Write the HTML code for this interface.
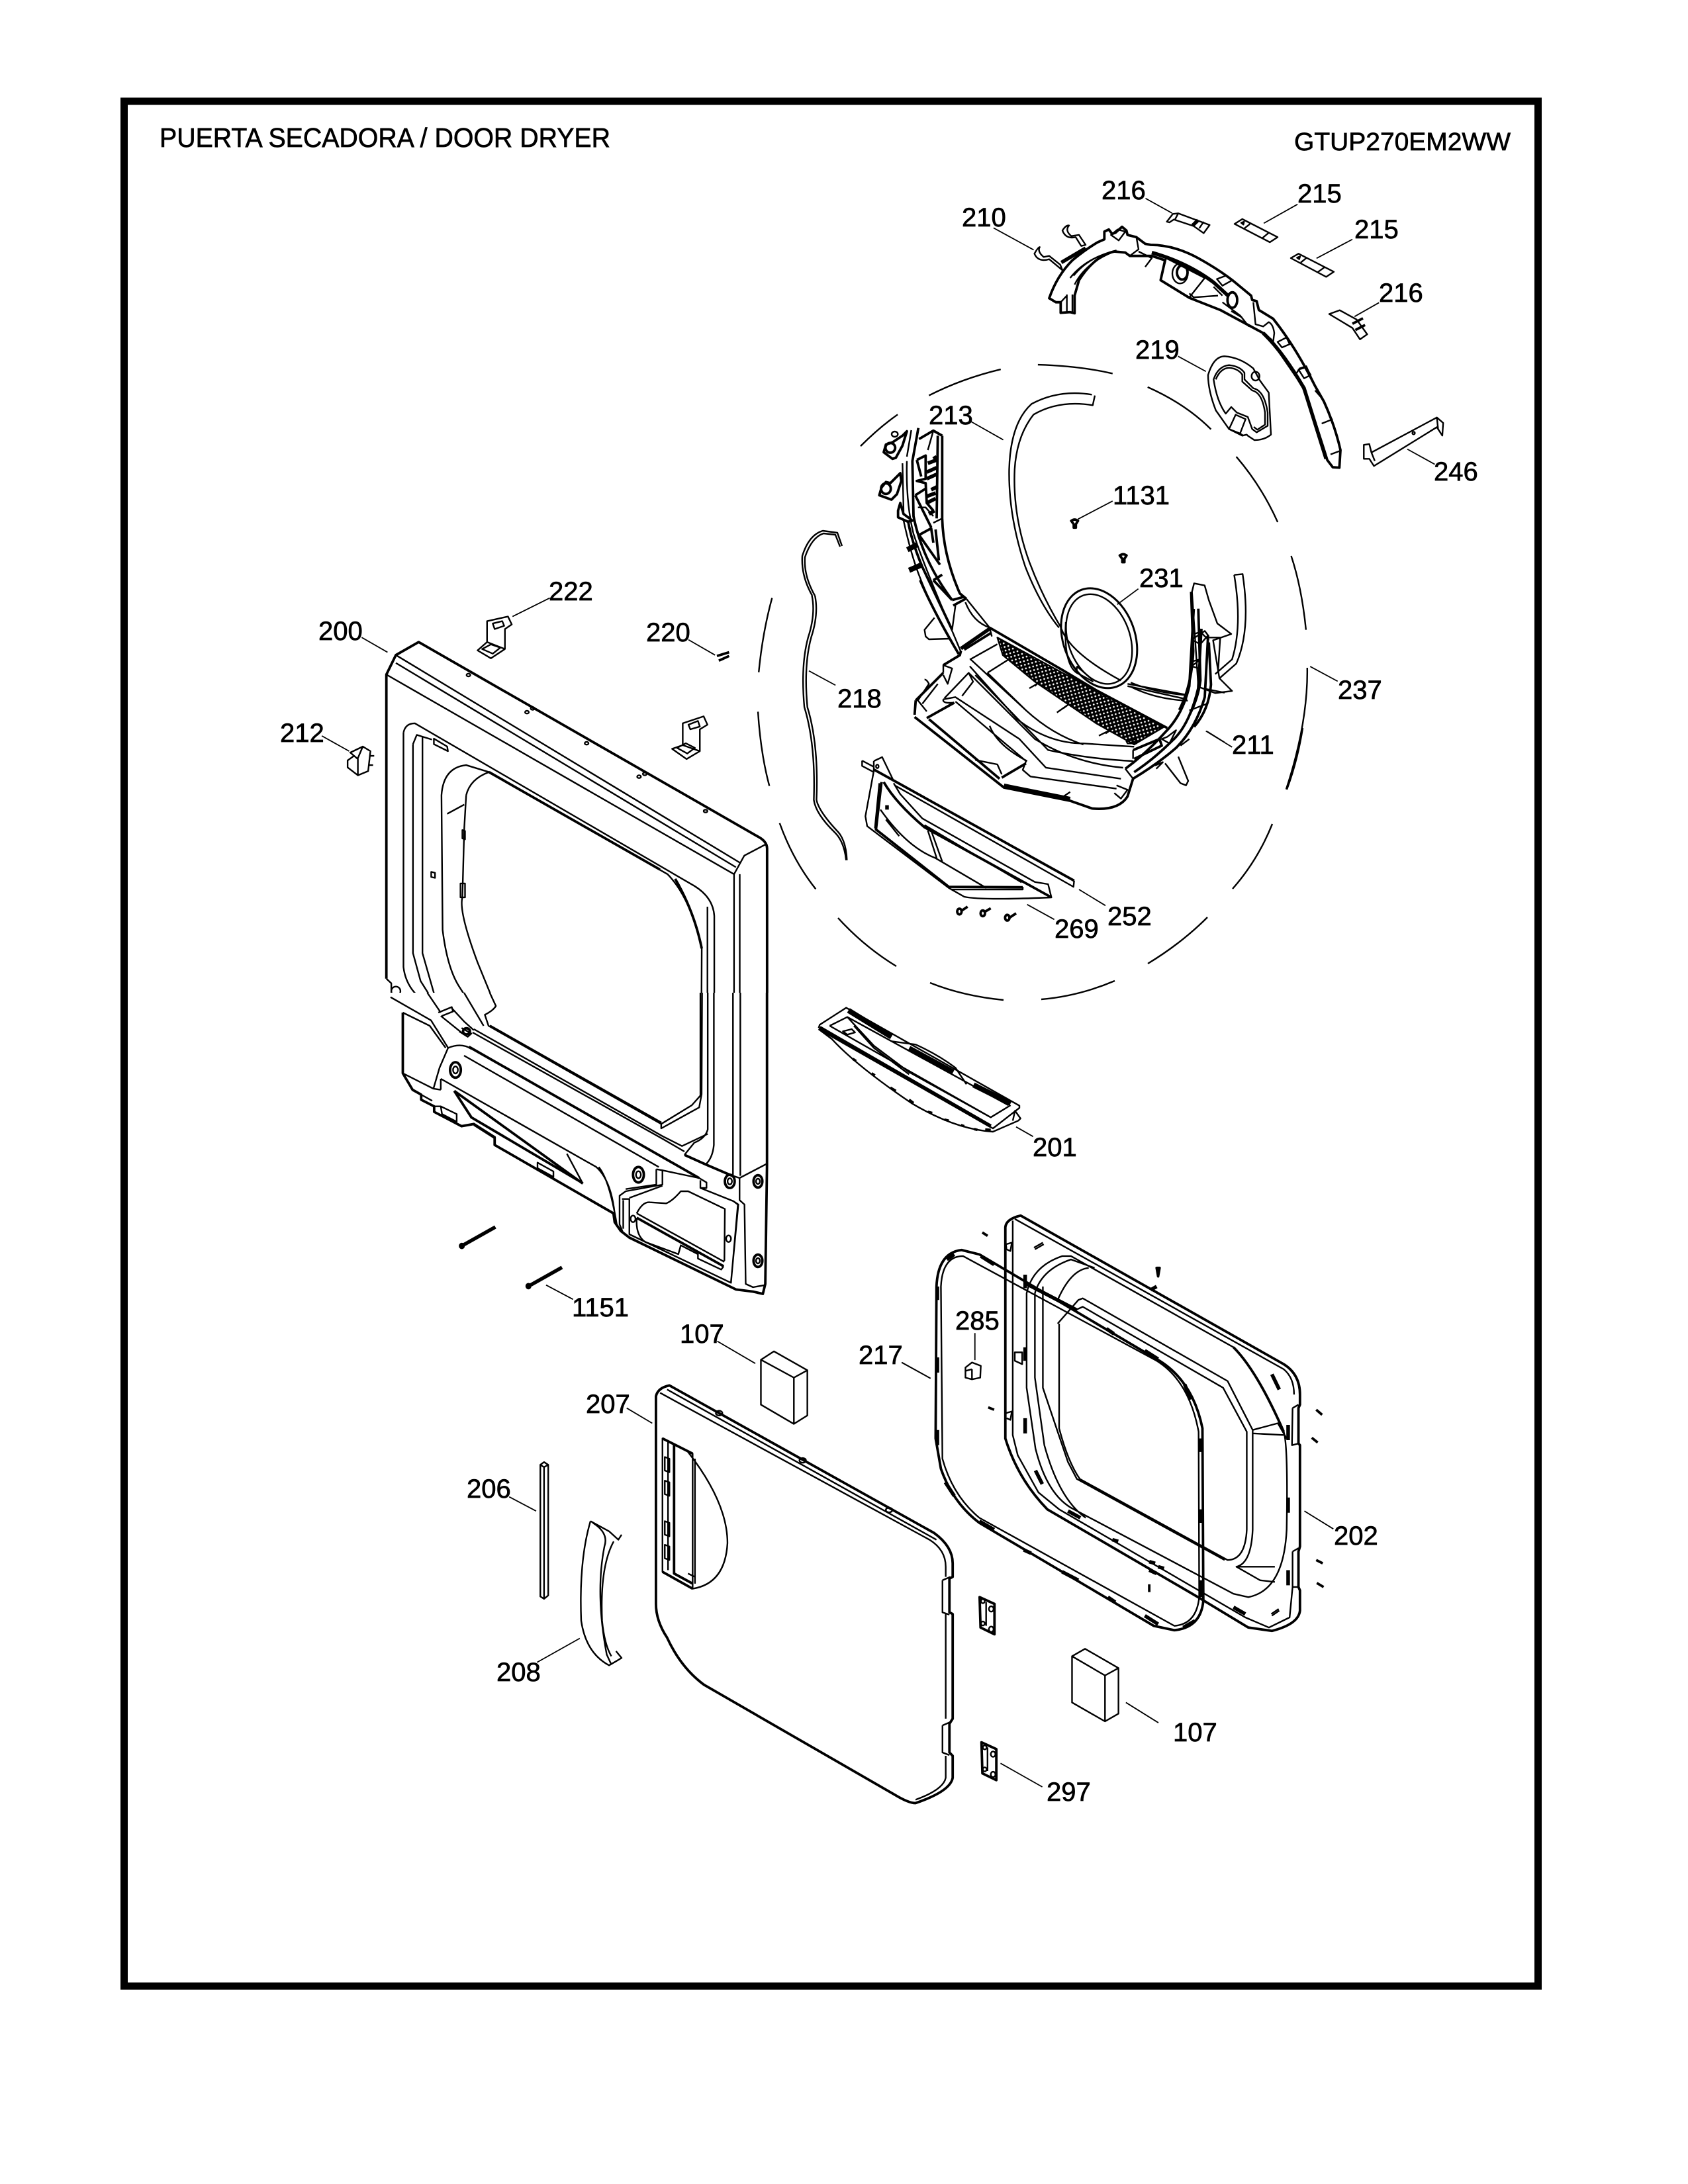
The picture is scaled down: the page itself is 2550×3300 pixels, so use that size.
<!DOCTYPE html>
<html><head><meta charset="utf-8"><style>
html,body{margin:0;padding:0;background:#fff}
svg{display:block}
path,ellipse,line{fill:none;stroke:#000;stroke-width:2.4;vector-effect:non-scaling-stroke;stroke-linejoin:round}
.t{stroke-width:3.8}
.b{stroke-width:5.5}
.x{stroke-width:8}
.l{stroke-width:1.8}
.k{fill:#000}
text{font-family:"Liberation Sans",sans-serif;font-size:40px;fill:#000;stroke:#000;stroke-width:.7px}
</style></head><body>
<svg width="2550" height="3300" viewBox="0 0 2550 3300" xmlns="http://www.w3.org/2000/svg">
<defs>
<pattern id="mesh" width="24" height="24" patternUnits="userSpaceOnUse" patternTransform="rotate(30)"><rect width="24" height="24" fill="#000"/><ellipse cx="6" cy="6" rx="4" ry="4" style="fill:#fff;stroke:none"/><ellipse cx="18" cy="18" rx="4" ry="4" style="fill:#fff;stroke:none"/></pattern>
<clipPath id="top"><rect x="0" y="0" width="2550" height="1500"/></clipPath>
</defs>
<rect x="187.500" y="153" width="2136" height="2848" fill="none" stroke="#000" stroke-width="11"/>
<text x="241" y="222" textLength="681" lengthAdjust="spacingAndGlyphs" style="font-size:41px">PUERTA SECADORA / DOOR DRYER</text>
<text x="1955" y="227" textLength="327" lengthAdjust="spacingAndGlyphs" style="font-size:38px">GTUP270EM2WW</text>

<!-- labels -->
<text x="1664" y="301">216</text><text x="1960" y="306">215</text><text x="2046" y="360">215</text>
<text x="1453" y="342">210</text><text x="2083" y="456">216</text><text x="1715" y="542">219</text>
<text x="1403" y="641">213</text><text x="2166" y="726">246</text><text x="1681" y="762">1131</text>
<text x="1721" y="887">231</text><text x="2021" y="1056">237</text><text x="1861" y="1139">211</text>
<text x="1265" y="1069">218</text><text x="1673" y="1398">252</text><text x="1593" y="1417">269</text>
<text x="1560" y="1747">201</text><text x="481" y="967">200</text><text x="829" y="907">222</text>
<text x="976" y="969">220</text><text x="423" y="1121">212</text><text x="864" y="1989">1151</text>
<text x="1027" y="2029">107</text><text x="1297" y="2061">217</text><text x="885" y="2135">207</text>
<text x="705" y="2263">206</text><text x="750" y="2540">208</text><text x="1581" y="2721">297</text>
<text x="1443" y="2009">285</text><text x="2015" y="2334">202</text><text x="1772" y="2631">107</text>

<!-- Z1 upper assemblies -->
<g transform="translate(1300,250) scale(.6378)">
<path class="l" d="M675 78L738 113M1035 92L955 137M1165 175L1080 220M1228 325L1170 358M315 148L410 200M752 452L818 488M262 607L338 650M1295 672L1360 708M597 795L515 838M658 1003L608 1040M1065 1187L1130 1222M818 1340L880 1378"/>
<path d="M162 545Q240 505 332 483M420 472Q520 475 597 493M680 525Q770 565 830 625M890 690Q950 760 988 845M1020 925Q1045 1000 1055 1100M1058 1190Q1060 1320 1008 1478M0 665Q45 620 88 590"/>
<path d="M1110 352L1135 343L1175 365L1200 400L1183 412L1165 385Z"/><path class="t" d="M1165 375L1190 362M1172 390L1195 378"/>
<path d="M1192 662L1205 660L1210 680L1365 597L1380 610L1378 640L1365 620L1216 712L1205 695L1192 695ZM1210 680L1218 700M1365 597L1368 625"/><ellipse cx="1310" cy="634" rx="3" ry="3"/>
<path d="M555 545L550 568Q470 555 410 590Q370 640 365 720Q360 830 400 940Q430 1020 475 1095M548 543Q470 530 405 565Q355 610 352 720Q350 830 390 950Q425 1040 470 1095M640 1225Q700 1250 775 1255M640 1235Q700 1265 775 1268M885 970L905 968Q925 1100 890 1180L850 1215M885 970Q905 1090 880 1170L840 1205"/>
<ellipse cx="565" cy="1120" rx="85" ry="122" transform="rotate(-20 565 1120)" style="stroke-width:3"/>
<ellipse cx="565" cy="1122" rx="73" ry="110" transform="rotate(-20 565 1122)"/>
<path class="t" d="M499 842Q507 836 515 842L510 850L510 858L505 858L505 850ZM614 924Q622 918 630 924L625 932L625 940L620 940L620 932Z"/>
<path d="M790 990L815 995L825 1030L845 1085L878 1110L835 1125L850 1215L880 1245L840 1250L800 1235L785 1010Z"/>
<path class="t" d="M783 1010L788 1150Q785 1230 755 1290M800 1050L805 1220Q800 1260 780 1300M825 1130L830 1230Q825 1290 790 1330"/>
<path d="M790 1110L805 1105L825 1125M785 1175L805 1170"/>
</g>

<!-- top arc 210, 216, 215, 219 -->
<g transform="translate(1540,290) scale(.33333)">
<path d="M668 135L695 100L720 97L862 150L835 187L790 155L700 125L680 138ZM720 97L705 125M835 135L815 165"/><path class="b" d="M810 128L785 152"/>
<path d="M975 145L1010 123L1170 205L1135 228ZM1045 145L1020 165M1130 185L1100 210"/><path class="k" d="M1005 140L1018 135L1015 148Z"/>
<path d="M1230 300L1265 280L1425 362L1390 385ZM1300 300L1275 320M1385 340L1350 365"/><path class="k" d="M1258 298L1272 292L1268 305Z"/>
<path class="t" d="M135 482Q170 380 240 310Q300 260 355 228L385 215L385 180L405 170L420 190L435 185L465 158L485 175L490 195L530 205L570 235L595 240Q700 240 810 300Q900 350 965 400L1050 470L1055 490L1075 495L1085 535L1150 575Q1250 700 1340 880L1380 950Q1430 1060 1455 1170L1450 1250L1420 1248L1395 1215Q1360 1100 1280 870L1250 830L1140 670L1105 640L910 535L770 480L640 400L660 310L600 290L500 290L480 275L430 270Q340 290 270 400L250 470L250 550L230 545L187 548L187 500L165 500Z"/>
<path class="b" d="M190 320L300 255M600 275Q760 320 880 410L945 470M1105 640Q1190 720 1290 890L1390 1210"/>
<path d="M230 390Q300 300 440 265M245 380Q310 300 410 275M250 420Q300 320 430 270M215 465L215 545M240 465L240 545M187 500L215 470"/>
<path d="M195 175Q210 150 225 152Q205 175 235 200L270 195L300 240L280 245L255 205Q210 215 195 175ZM68 280Q85 250 92 250Q80 270 110 295L135 290L185 330L195 355L135 305Q85 320 68 280Z"/>
<path d="M640 400L770 478L840 390L665 300ZM770 460L790 478L900 470M880 430L920 470M415 195L450 220L480 180L445 170ZM530 205L540 260L500 290M540 270L600 300L570 340M1060 500L1070 600L1105 610L1130 590Q1150 600 1155 640L1150 680M1250 830L1270 800L1300 790L1340 880M1170 680L1210 660L1225 690L1190 705ZM1265 805L1300 795L1320 830L1290 845ZM1370 1050L1420 1030M1340 900L1375 940M1410 1190L1450 1175M895 395L935 380L965 400L920 425ZM920 500L1000 560L1040 610M960 540L1010 570"/>
<ellipse cx="728" cy="370" rx="35" ry="45"/><ellipse cx="738" cy="365" rx="24" ry="32" class="t"/><ellipse cx="965" cy="490" rx="22" ry="35" class="t"/>
<path d="M855 830Q880 745 930 745Q1000 750 1060 800L1090 855L1130 910L1140 1100Q1110 1125 1065 1125L1035 1105L1030 1100L1010 1105L950 1075L890 990Q855 900 855 830Z"/>
<path d="M880 850Q900 790 950 785Q1000 790 1020 820L1020 850L1060 890Q1110 900 1125 1000L1125 1060L1075 1090L1055 1075L1035 1020L985 1000L960 975L935 1005Q895 950 880 850Z"/>
<path d="M890 850Q910 800 950 797Q990 800 1010 828L1010 860L1055 900Q1100 910 1113 1000L1113 1055L1078 1078L1062 1065"/>
<path d="M950 1075L980 1010L1025 1030L1000 1095ZM1000 1095L1015 1105"/><ellipse cx="1070" cy="835" rx="18" ry="20"/>
</g>

<!-- left arm of 211 -->
<g transform="translate(1310,640) scale(.33333)">
<path class="t" d="M340 55L340 430Q345 600 420 770L450 795M340 55L300 32L235 70M320 55L315 430"/>
<path d="M300 32L275 120M340 430L300 450M450 795L555 925M445 810Q480 900 555 925"/>
<path class="t" d="M232 20L205 170L210 420Q250 620 385 800M185 440Q200 530 250 650L385 935M240 710Q300 850 415 1045"/>
<path d="M180 170Q175 360 210 500Q260 650 385 940L425 1035M160 180L165 400M165 440Q200 600 240 700Q310 880 415 1045M200 30L180 150"/>
<path class="b" d="M275 180L315 165M270 220L315 200M270 250L315 230M290 300L320 285M270 330L310 315M270 360L310 340M280 410L305 395M300 160L315 150"/>
<path class="t" d="M225 165L265 145L265 250L225 260L265 270L270 360L300 395M225 165L245 240M218 325L265 295M218 325L290 470M235 505L290 475L300 540M235 505L330 640M310 480L325 620M300 710L340 685M300 710L385 800"/>
<path class="t" d="M390 825L445 795M385 800L440 785"/>
<path d="M400 825L385 935M230 380L265 380L300 420"/>
<path class="t" d="M75 130L85 95L115 85L160 55L180 35L160 100L130 155L115 160ZM65 290L85 265L105 270L150 225L155 260L135 320L110 345L55 325ZM140 395L150 360L165 410L205 440L185 445L140 425Z"/>
<ellipse cx="125" cy="48" rx="14" ry="12"/><ellipse class="t" cx="105" cy="110" rx="22" ry="22"/><ellipse class="t" cx="85" cy="295" rx="22" ry="24"/>
<path class="x" d="M182 572L228 548M190 665L248 640"/>
<path d="M305 880L260 935L265 965L280 978L375 975"/>
<path class="b" d="M425 1020L555 930"/><path class="t" d="M440 1025L560 950"/>
</g>

<!-- Z8 duct -->
<g transform="translate(1350,920) scale(.33333)">
<path d="M470 130L765 290L920 370L1225 535L1090 615L920 520L640 330L495 210Z" style="fill:url(#mesh);stroke:#000"/>
<path class="t" d="M435 85L770 280L920 370L1240 540"/>
<path d="M445 125L435 85"/>
<path class="t" d="M95 490L500 810L800 870L900 905Q1020 915 1060 850L1085 770"/>
<path class="b" d="M500 800L800 860"/>
<path class="t" d="M100 415L225 290M95 480L100 415M225 255L300 210L305 190M150 495L275 425M490 765L600 700M1085 640L1205 590L1215 620L1090 680M160 500L480 770"/>
<path d="M225 290L225 255L265 270L245 340L225 300M345 230L470 160M345 260L560 500Q700 610 860 610L1090 625M350 230L600 460Q720 570 860 615M370 300L700 640Q880 680 1085 690M340 290L640 590Q820 700 1040 720M425 290L520 230M425 290L600 460M225 410L280 400L570 590L690 720L1030 770M280 420L600 690L585 730L620 760L1010 815M435 530Q470 620 605 690M370 685L470 705L490 750M225 410Q220 430 270 425M230 405L340 290L360 330L310 395M140 320Q150 320 160 340L110 415L150 465M130 430L200 340M1085 640L1085 680M1055 600L1100 590L1100 610L1060 610Z"/>
<path class="t" d="M1360 0L1340 350Q1310 480 1230 560Q1150 650 1050 725M1395 90L1380 360Q1340 530 1260 600Q1180 680 1090 740M1425 120L1410 400Q1370 540 1280 630Q1200 700 1085 770"/>
<path d="M1290 670L1335 780L1325 800L1300 790L1230 700M1050 725L1085 770M1010 800L1060 820L1030 860L1000 835M800 830L770 850L820 880M1185 710L1220 695L1190 725M615 360L650 340L640 350M740 470L790 435L770 450M930 575L990 545L960 565M1350 140L1410 100L1425 120L1390 160L1350 140M1350 260L1390 230L1385 270ZM1430 130L1480 130L1470 290M1400 360L1500 380M1340 460L1420 430M1240 580L1280 550L1250 610L1215 590ZM1300 620L1340 590"/>
<path d="M780 60Q770 250 830 290L905 330M830 260L830 290M830 260L900 320M760 90Q800 200 1030 325M1060 340L1330 390M1060 350L1330 410"/>
<path class="l" d="M1420 555L1500 605"/>
</g>

<!-- Z6 252 filter -->
<g transform="translate(1270,1120) scale(.33333)">
<path d="M97 88L97 112L150 140M97 88L150 116M150 90L188 72L240 180M1058 632L1055 660L245 200"/>
<path class="t" d="M150 128L1058 632"/>
<path d="M150 90L150 135L112 340L120 385L490 665L560 705Q640 722 955 708L940 648L880 638L830 610L370 350L270 240L240 190"/>
<path class="t" d="M185 185L160 400L490 660L825 662"/>
<path class="t" d="M195 185Q250 280 380 390L950 705"/>
<path d="M175 190L155 395M180 310Q300 480 430 530L660 665M395 405L435 530M410 405L460 545M205 355L265 430M500 672L825 672L825 660M380 380L820 640"/>
<path class="b" d="M210 290L210 310"/>
<path class="t" d="M545 770L575 750M650 775L680 757M765 800L795 780"/>
<ellipse class="t" cx="538" cy="772" rx="10" ry="13"/><ellipse class="t" cx="644" cy="780" rx="10" ry="13"/><ellipse class="t" cx="755" cy="800" rx="10" ry="13"/>
<ellipse cx="166" cy="114" rx="6" ry="8"/>
<path class="l" d="M1080 672L1200 745M845 740L968 808"/>
</g>

<!-- Z2 panel 200 upper (clipped at y=1500), brackets, wire -->
<g clip-path="url(#top)">
<g transform="translate(400,900) scale(.574,.7015)">
<path d="M1440 0Q1450 40 1430 90Q1410 150 1420 240Q1450 320 1445 440Q1450 470 1500 510Q1525 530 1530 570M1448 0Q1458 40 1438 90Q1418 150 1428 240Q1458 320 1452 440Q1458 465 1510 510Q1530 530 1532 570"/>
<path d="M1335 5Q1310 80 1300 165M1298 250Q1305 340 1328 410M1355 490Q1390 570 1450 632"/>
<path class="l" d="M1432 162L1502 193M1115 95L1185 128M652 45L750 5M255 90L323 122M150 302L222 335"/>
<path class="t" d="M320 825L320 170L345 128L405 100L1300 520Q1322 530 1322 545L1322 1225"/>
<path d="M320 825L333 835L333 865L362 895L362 1035M320 170L1235 600L1262 560L1320 535M345 145L1240 585M345 128L1250 575M1235 600L1235 1250M1250 600L1250 1250"/>
<path d="M365 295Q370 275 395 275L1130 625Q1180 650 1183 690L1183 1170M365 295L365 800Q372 850 430 880L460 900"/>
<path d="M530 430Q540 395 590 380L1060 600Q1120 650 1150 760L1148 1070M580 905L605 880L560 790Q510 680 520 650L525 500L530 430"/>
<path class="t" d="M590 380L1040 590M1080 610Q1130 680 1150 760"/>
<path d="M465 430Q470 370 530 365L590 380M465 430L468 720Q480 800 510 840L580 930M480 470L525 450M390 320L400 300L440 310M390 320L390 770L410 830L460 895M415 305L415 770L450 870L490 885M445 308L480 325L482 335L445 320ZM1165 670L1165 1170M333 865L440 910L480 985"/>
<path d="M438 595L448 597L448 608L438 606ZM520 505L527 507L527 525L520 523ZM515 620L527 620L527 650L515 650Z"/>
<ellipse cx="345" cy="852" rx="12" ry="10"/>
<ellipse cx="536" cy="171" rx="5" ry="3"/><ellipse cx="690" cy="251" rx="5" ry="3"/><ellipse cx="705" cy="243" rx="5" ry="3"/><ellipse cx="847" cy="318" rx="5" ry="3"/><ellipse cx="985" cy="390" rx="5" ry="3"/><ellipse cx="1000" cy="384" rx="5" ry="3"/><ellipse cx="1160" cy="464" rx="5" ry="3"/>
<path d="M585 100L585 55L640 45L650 62L632 72L632 115L595 135L560 118ZM585 100L632 115M572 115L600 125L620 112L595 105ZM600 60L625 55L630 65L605 72Z"/>
<path d="M1100 322L1100 275L1155 260L1165 278L1145 288L1145 335L1110 352L1072 330ZM1100 322L1145 335M1085 328L1112 340L1132 328L1108 318ZM1115 278L1140 270L1145 282L1120 288Z"/>
<path class="t" d="M1190 130L1222 122M1195 140L1222 130"/>
<path d="M225 338L258 325L278 335L272 378L245 387L218 370L218 355L235 345L245 352ZM245 352L245 387M258 325L245 350M278 345L288 345M272 365L285 365"/>
</g>
</g>

<!-- dashed circle lower, wire hook -->
<path d="M1266 1387Q1305 1430 1354 1460M1405 1485Q1455 1505 1516 1511M1573 1510Q1630 1505 1684 1482M1734 1456Q1785 1425 1824 1386M1862 1343Q1900 1300 1922 1245M1944 1193Q1960 1150 1968 1100"/>
<path d="M1272 825L1265 805L1243 802Q1222 808 1212 840Q1210 870 1227 900M1269 826L1262 808L1244 806Q1226 812 1216 842Q1214 870 1231 900"/>

<!-- lower panel 200 -->
<g transform="translate(590,1500) scale(.37,.33333)">
<path class="t" d="M50 90L50 365L90 440L125 462L125 485L178 515L178 540L290 605L340 595L425 655L425 690L910 1000L915 1040L940 1080L975 1110L1410 1345L1480 1355L1520 1365L1530 1320L1537 780L1537 0"/>
<path d="M1428 0L1428 830M1398 0L1398 830M1425 840L1537 775M1398 830L1425 840L1425 940L1445 960L1450 1320L1480 1335L1530 1325"/>
<path class="t" d="M1200 735L1290 780L1395 830"/>
<path d="M1320 0L1320 690Q1315 750 1285 780M1295 0L1295 620Q1285 660 1240 680L1200 735M1272 0L1270 460L1230 510L1105 595L400 150L385 100Q420 80 430 60L405 0M1265 0L1265 470M1105 595L1105 615L1260 520L1270 460"/>
<path class="t" d="M405 150L1105 590"/>
<path d="M340 165L1110 650L1190 695L1295 640M335 180L1115 665L1200 720M300 285L1095 790M1110 805L1260 840L1290 860L1290 885L1265 885L1265 850M1265 885L1400 945L1420 960L1390 1310M1085 800L1110 805L1110 870L960 900L935 920L935 1050L950 1090L975 1110M1085 800L1085 870L960 890M945 935L975 935L975 1095L1390 1315L1418 960L1400 945M975 930L1110 875M950 940L950 1070"/>
<path class="t" d="M320 245L1260 840"/>
<path d="M1005 1000Q1030 945 1060 950L1125 955Q1150 945 1185 900L1215 900L1365 980L1363 1215M1005 1000L1363 1220"/>
<path class="t" d="M1005 1020L1360 1240"/>
<path d="M1005 1020Q1000 1100 1040 1130L1175 1185L1185 1145L1255 1185L1255 1205L1350 1255L1360 1240"/>
<path d="M0 20L165 125L235 250L200 340L175 435L205 440M50 90L160 150L225 250M235 250Q290 225 330 255M50 365L175 435M205 390L205 440M205 390L840 790Q900 850 915 1000M850 790Q895 850 925 1060M720 730L785 865"/>
<path class="t" d="M260 445L785 865M260 445L330 565L780 860"/>
<path d="M178 515L205 515L270 550L270 585L210 550L205 515M425 660L340 600M600 770L665 810L665 835L600 795ZM195 90L250 65L255 85L210 105M205 105L300 190M290 160L330 185L315 200L280 175M250 70L300 130L340 170M150 0L205 90M300 0L380 150M125 462L170 490"/>
<ellipse class="t" cx="265" cy="350" rx="22" ry="35"/><ellipse cx="265" cy="350" rx="10" ry="16"/>
<ellipse class="t" cx="1012" cy="825" rx="22" ry="35"/><ellipse cx="1012" cy="825" rx="10" ry="16"/>
<ellipse class="t" cx="1385" cy="855" rx="20" ry="30"/><ellipse cx="1385" cy="855" rx="9" ry="14"/>
<ellipse class="t" cx="1500" cy="855" rx="18" ry="28"/><ellipse cx="1500" cy="855" rx="8" ry="12"/>
<ellipse class="t" cx="1500" cy="1215" rx="18" ry="28"/><ellipse cx="1500" cy="1215" rx="8" ry="12"/>
<ellipse cx="990" cy="1025" rx="10" ry="15"/><ellipse cx="1380" cy="1115" rx="10" ry="15"/>
<ellipse class="t" cx="310" cy="175" rx="14" ry="14"/>
<path class="b" d="M300 1142L428 1062M572 1325L700 1245"/>
<ellipse class="k" cx="291" cy="1148" rx="9" ry="11"/><ellipse class="k" cx="563" cy="1330" rx="9" ry="11"/>
<path class="l" d="M635 1325L745 1390"/>
</g>

<!-- Z7 201 -->
<g transform="translate(1210,1480) scale(.33333)">
<path d="M80 220L85 205L205 128L990 572L990 582L870 675L80 225"/>
<path class="b" d="M85 218L860 665"/>
<path d="M80 225L140 270Q250 390 500 560Q700 680 870 690L985 640L995 630L970 595L960 640M130 210L210 170L330 300L490 420L860 625L950 570M130 210L860 625M210 170L940 570M410 280L520 295Q620 340 700 400L750 475M240 210L330 310L490 430"/>
<path class="x" d="M215 140L410 260M490 312L690 420M782 478L950 562"/>
<path d="M190 235L230 225L245 240L210 250Z"/>
<path class="t" d="M235 360L250 370M320 425L335 435M405 490L430 505M490 545L510 560M575 600L595 605M650 635L670 640M725 660L740 665M785 678L800 682M835 680L860 682"/>
<path class="l" d="M975 668L1052 712"/>
</g>

<!-- Z3 202 / 217 -->
<g transform="translate(1350,1750) scale(.4464,.5102)">
<path class="t" d="M378 205Q380 180 430 170L1320 610Q1375 640 1375 700L1375 730L1370 740L1370 845L1375 850L1375 1150L1370 1165L1370 1270L1375 1280L1375 1340Q1370 1380 1280 1400L1200 1390L1030 1300L520 1040Q420 950 378 830Z"/>
<path d="M1350 740L1370 730M1350 740L1348 850L1370 845M1350 1165L1370 1155M1350 1165L1350 1270L1370 1270"/>
<path d="M403 185L403 820L420 880L490 990L560 1040L1190 1360L1270 1390L1340 1360L1350 1270M410 180L1320 625Q1355 650 1355 700M450 400Q470 320 570 290L600 290L1150 560Q1230 630 1320 810Q1335 850 1330 1100Q1320 1280 1200 1300L1150 1290L610 1040Q520 1000 480 860L450 680ZM478 400Q500 330 600 300L680 325M505 380L505 680L555 810L590 900L620 950L1120 1190M555 420Q600 330 660 325M560 490L560 800Q590 900 630 950L1130 1190Q1190 1190 1195 1100L1195 810L1115 680L640 440L615 450M555 490L625 420L640 415L1130 660L1215 805L1215 1100Q1210 1200 1160 1210L1290 1210M1215 805L1300 785L1330 830M1215 815L1320 820M1160 1210L1240 1250L1290 1255M478 400L478 650L510 850Q560 1010 650 1065"/>
<path class="t" d="M1150 560Q1230 630 1320 810"/>
<path class="b" d="M445 345L445 385M445 560L445 600M445 770L445 815M480 925L503 965M1280 640L1305 685M1335 790L1335 835M1335 1005L1335 1050M1335 1220L1335 1265"/>
<path d="M410 575L435 575L435 610L410 600ZM475 265L505 250M478 270L508 255M1280 1355L1305 1340M1278 1350L1303 1335M380 255L400 250L395 275L382 270ZM380 755L400 750L395 775L382 770"/>
<path class="t" d="M145 380Q150 280 230 272L290 285L880 590Q1010 650 1045 800L1048 1310Q1040 1390 950 1398L880 1385L290 1080Q200 1020 160 920L142 830Z"/>
<path d="M160 380Q165 290 235 290L890 600Q1000 660 1032 810L1034 1300Q1025 1380 950 1385L290 1065Q200 1000 165 890Z"/>
<path class="b" d="M180 300L205 285M295 290L340 315M445 370L620 450M720 505L745 520M850 570L895 595M985 670L1005 715M1038 830L1038 870M1038 1040L1038 1080M1038 1250L1038 1300M980 1390L1020 1370M850 1355L895 1380M725 1300L750 1315M570 1225L625 1250M440 1160L465 1170M290 1075L340 1100M175 960L205 1000M148 380L148 420M148 590L148 635M148 805L148 850"/>
<path class="b" d="M590 1045L632 1065M740 1130L760 1135M865 1195L885 1200M895 1210L915 1215M865 1220L890 1230M1150 1330L1190 1350M870 390L890 380"/>
<path class="t" d="M300 220L318 230M320 738L340 745M890 325L900 325L895 350ZM865 1262L865 1285M1430 745L1450 760M1415 828L1435 842M1430 1190L1452 1200M1432 1258L1455 1270"/>
<path d="M243 620L265 605L295 615L293 650L265 655L243 650ZM265 625L265 655M243 630L265 625"/>
<path class="l" d="M275 518L275 598M28 605L125 652M1390 1045L1488 1098"/>
</g>

<!-- Z4 door 207 etc -->
<g transform="translate(650,2000) scale(.7015,.5102)">
<path class="t" d="M486 215Q490 190 515 183L1085 620Q1125 660 1125 710L1125 750L1118 755L1118 855L1125 860L1125 1170L1118 1185L1118 1270L1125 1280L1125 1345Q1120 1385 1045 1420Q1030 1420 1000 1395L590 1070Q540 1020 510 930Q486 880 486 830Z"/>
<path d="M495 205L1075 640Q1110 670 1110 720L1110 750M510 195L1090 640M1103 760L1120 750M1103 760L1103 855L1118 862M1110 860L1110 1170M1103 1190L1120 1180M1103 1190L1103 1270L1118 1278M1110 1280L1110 1345Q1105 1380 1045 1410"/>
<path d="M500 340L500 735L565 785L565 385ZM512 350L512 730M570 400L570 770M555 380Q640 530 640 650Q635 770 565 785M555 740L570 750M505 395L515 400L515 440L505 435ZM505 465L515 470L515 510L505 505ZM505 585L515 590L515 630L505 625ZM505 655L515 660L515 700L505 695Z"/>
<path class="t" d="M500 340L565 385M500 735L565 785M525 355L525 740L565 770"/>
<ellipse cx="622" cy="265" rx="7" ry="7"/><ellipse cx="802" cy="405" rx="7" ry="7"/><ellipse cx="988" cy="552" rx="7" ry="7"/>
<path d="M712 107L740 82L812 138L812 272L783 297L712 240ZM712 107L783 160L812 138M783 160L783 297"/>
<path d="M1382 985L1410 963L1482 1020L1482 1155L1453 1178L1382 1122ZM1382 985L1453 1042L1482 1020M1453 1042L1453 1178"/>
<path d="M237 418L245 410L254 418L254 805L245 815L237 808ZM237 418L245 425L254 418M245 425L245 815"/>
<path d="M345 585Q320 700 325 880Q335 975 385 1012L400 1000L412 990L400 970M345 585L385 615L405 640L412 625M350 590Q385 620 375 660Q355 800 380 980L390 1010M395 645Q365 720 370 880Q375 950 390 985"/>
<path class="t" d="M1183 810L1215 830L1215 920L1185 900Z"/>
<path d="M1197 825L1197 895"/><ellipse cx="1208" cy="845" rx="5" ry="8"/><ellipse cx="1208" cy="905" rx="5" ry="8"/><ellipse cx="1190" cy="822" rx="4" ry="6"/><ellipse cx="1190" cy="888" rx="4" ry="6"/>
<path class="t" d="M1187 1240L1219 1260L1219 1352L1189 1332Z"/>
<path d="M1200 1255L1200 1325"/><ellipse cx="1212" cy="1275" rx="5" ry="8"/><ellipse cx="1212" cy="1335" rx="5" ry="8"/><ellipse cx="1194" cy="1255" rx="4" ry="6"/><ellipse cx="1194" cy="1320" rx="4" ry="6"/>
<path class="l" d="M618 52L700 118M1015 115L1077 162M423 250L478 295M170 513L228 555M230 1003L322 932M1228 1302L1318 1372M1498 1122L1568 1182"/>
</g>
</svg>
</body></html>
